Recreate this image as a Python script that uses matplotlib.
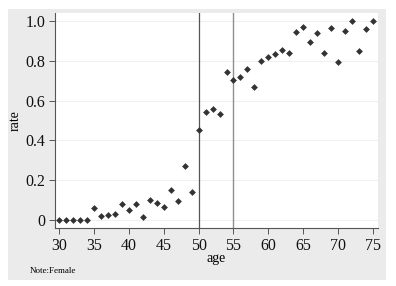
import numpy as np
import matplotlib.pyplot as plt
from matplotlib.patches import Rectangle

# share of women by age
age = np.arange(30, 76)
rate = [0.0, 0.0, 0.0, 0.0, 0.0,
        0.059, 0.018, 0.023, 0.028, 0.082,
        0.05, 0.08, 0.015, 0.102, 0.084,
        0.064, 0.149, 0.094, 0.273, 0.141,
        0.452, 0.543, 0.556, 0.531, 0.745,
        0.704, 0.72, 0.76, 0.667, 0.80,
        0.819, 0.836, 0.856, 0.839, 0.946,
        0.97, 0.893, 0.938, 0.839, 0.965,
        0.796, 0.95, 1.0, 0.851, 0.961,
        1.0]
cutoffs = [50, 55]
xticks = [30, 35, 40, 45, 50, 55, 60, 65, 70, 75]
yticks = [0, 0.2, 0.4, 0.6, 0.8, 1.0]
yticklabels = ['0', '0.2', '0.4', '0.6', '0.8', '1.0']

plt.rcParams['font.family'] = ['Liberation Serif', 'DejaVu Serif']

W, H = 396, 286
fig = plt.figure(figsize=(W / 100, H / 100), dpi=100, facecolor='white')
# stata-like gray graph region, kept behind the axes
fig.patches.append(Rectangle((8 / W, 1 - 280 / H), 378 / W, 271 / H,
                             transform=fig.transFigure, facecolor='#ebebeb',
                             edgecolor='none', zorder=-5))

ax = fig.add_axes([55 / W, 1 - 228 / H, 323 / W, 215 / H])
ax.set_zorder(1)
ax.set_facecolor('white')

ax.scatter(age, rate, marker='D', s=12, color='#333333', linewidths=0, zorder=3)
ax.axvline(cutoffs[0], color='#555555', lw=0.9, zorder=2)
ax.axvline(cutoffs[1], color='#8f8f8f', lw=1.0, zorder=2)

ax.set_xlim(29.43, 75.7)
ax.set_ylim(-0.04, 1.04)
ax.set_xticks(xticks)
ax.set_yticks(yticks)
ax.set_yticklabels(yticklabels)
ax.grid(axis='y', color='#f0f0f0', lw=0.8)
ax.set_axisbelow(True)

for s in ['top', 'right']:
    ax.spines[s].set_visible(False)
for s in ['left', 'bottom']:
    ax.spines[s].set_color('#555555')
    ax.spines[s].set_linewidth(0.8)
ax.tick_params(direction='out', length=4, width=0.7, color='#555555',
               labelsize=11.5, pad=3, labelcolor='#111111')

ax.set_xlabel('age', fontsize=10, labelpad=-1)
ax.set_ylabel('rate', fontsize=10, labelpad=3)
fig.text(30 / W, 1 - 271 / H, 'Note:Female', fontsize=6.5, va='center')

fig.savefig('out.png', dpi=100, facecolor=fig.get_facecolor())
